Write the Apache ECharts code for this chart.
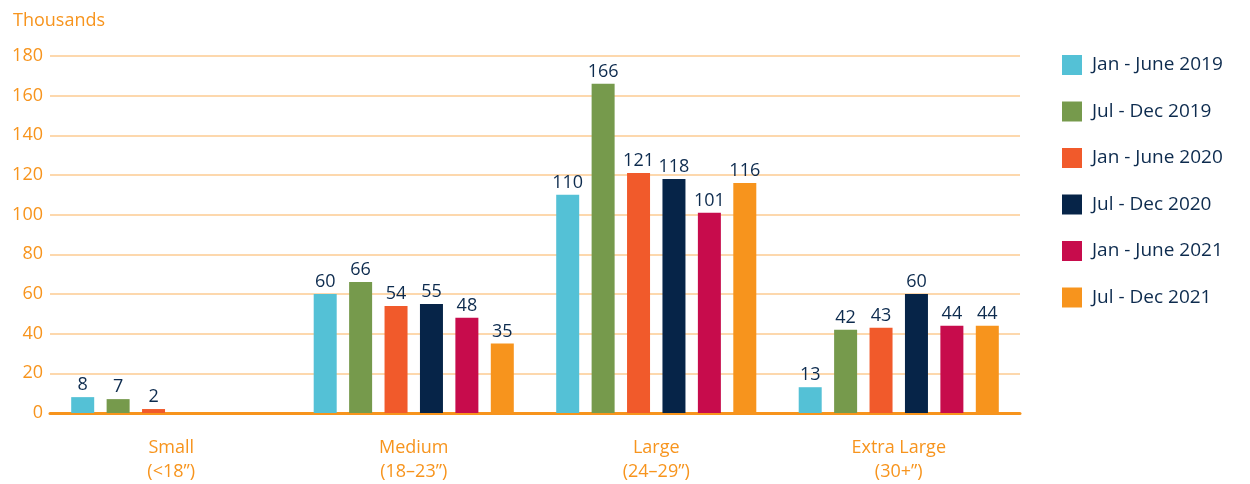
<!DOCTYPE html>
<html>
<head>
<meta charset="utf-8">
<script src="https://cdn.jsdelivr.net/npm/echarts@6/dist/echarts.min.js"></script>
<style>html,body{margin:0;padding:0;background:#fff}#c{width:1250px;height:484px}</style>
</head>
<body>
<div id="c"></div>
<script>
const categories = ['Small\n(<18”)', 'Medium\n(18–23”)', 'Large\n(24–29”)', 'Extra Large\n(30+”)'];
const seriesNames = ['Jan - June 2019', 'Jul - Dec 2019', 'Jan - June 2020', 'Jul - Dec 2020', 'Jan - June 2021', 'Jul - Dec 2021'];
const janJun2019 = [8, 60, 110, 13];
const julDec2019 = [7, 66, 166, 42];
const janJun2020 = [2, 54, 121, 43];
const julDec2020 = [null, 55, 118, 60];
const janJun2021 = [null, 48, 101, 44];
const julDec2021 = [null, 35, 116, 44];
const yTicks = [0, 20, 40, 60, 80, 100, 120, 140, 160, 180];
const colors = ['#54C1D6', '#769A4C', '#F15A2B', '#062448', '#C70C4C', '#F7941D'];
const allData = [janJun2019, julDec2019, janJun2020, julDec2020, janJun2021, julDec2021];

const font = '"Open Sans", Lato, sans-serif';
const orange = '#F7941D';
const navy = '#0D2B4E';

const chart = echarts.init(document.getElementById('c'));
chart.setOption({
  animation: false,
  color: colors,
  textStyle: { fontFamily: font },
  title: {
    text: 'Thousands', left: 8, top: 7,
    textStyle: { color: orange, fontSize: 18, fontWeight: 'normal', fontFamily: font }
  },
  legend: {
    orient: 'vertical', left: 1057, top: 50,
    itemWidth: 20, itemHeight: 20, itemGap: 26.5,
    icon: 'rect',
    textStyle: { color: navy, fontSize: 19, fontFamily: font, padding: [0, 0, 0, 5] },
    data: seriesNames
  },
  grid: { left: 50, right: 230, top: 56, bottom: 64, containLabel: false },
  xAxis: {
    type: 'category', data: categories,
    axisLine: { show: true, lineStyle: { color: orange, width: 3 } },
    axisTick: { show: false },
    axisLabel: { color: orange, fontSize: 18, fontFamily: font, lineHeight: 24, margin: 23 }
  },
  yAxis: {
    type: 'value', min: yTicks[0], max: yTicks[yTicks.length - 1], interval: 20,
    axisLine: { show: false }, axisTick: { show: false },
    axisLabel: { color: orange, fontSize: 18, fontFamily: font, margin: 7 },
    splitLine: { lineStyle: { color: '#FCCB92', width: 1.5 } }
  },
  series: seriesNames.map((name, i) => ({
    name, type: 'bar', data: allData[i],
    barWidth: 23, barGap: '54%',
    itemStyle: { color: colors[i] },
    label: { show: true, position: 'top', distance: 3, color: navy, fontSize: 18, fontFamily: font }
  }))
});
</script>
</body>
</html>
